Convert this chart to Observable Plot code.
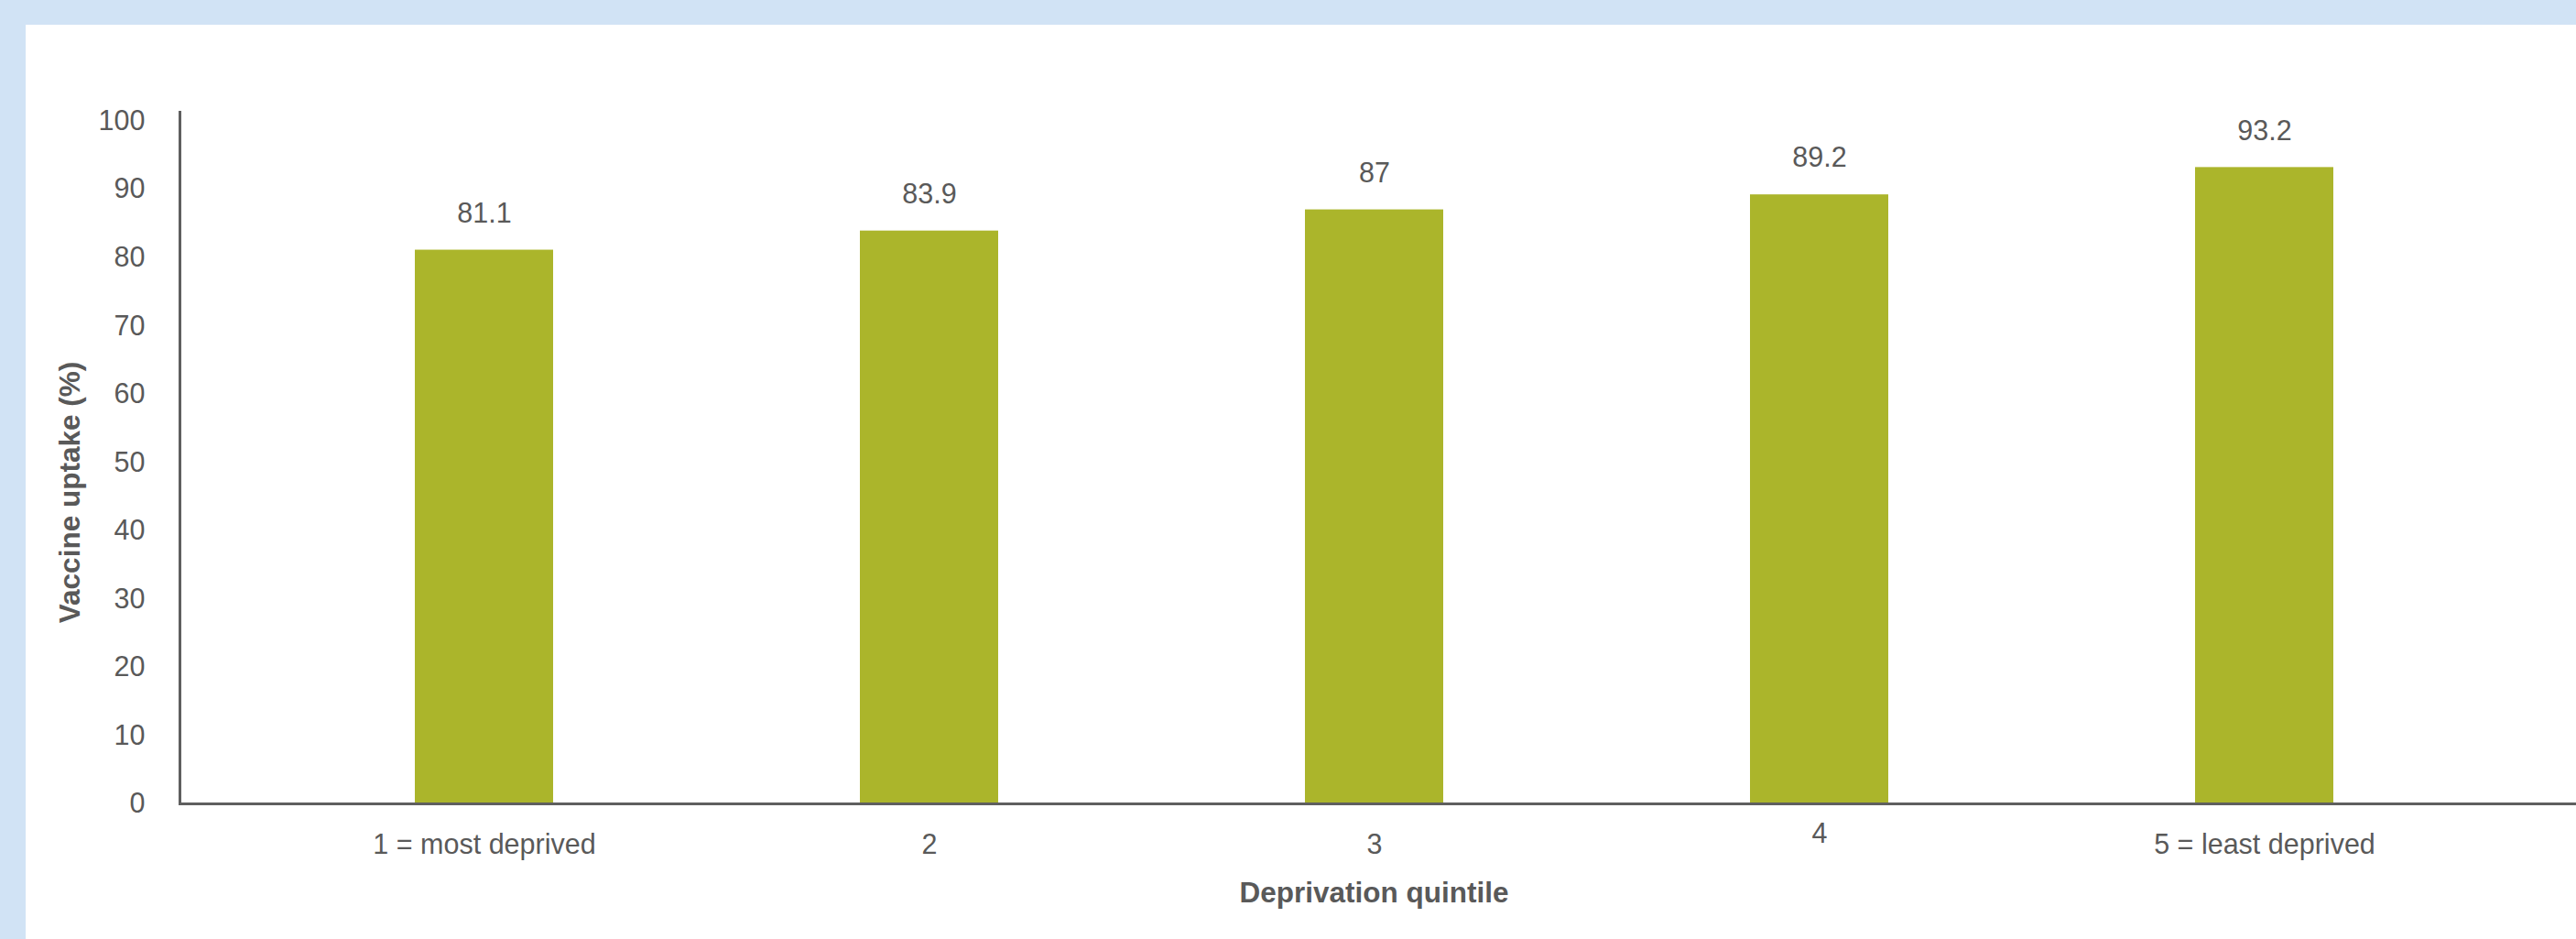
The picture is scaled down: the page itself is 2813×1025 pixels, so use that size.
<!DOCTYPE html>
<html>
<head>
<meta charset="utf-8">
<script src="https://cdn.jsdelivr.net/npm/d3@7"></script>
<script src="https://cdn.jsdelivr.net/npm/@observablehq/plot@0.6"></script>
<style>
  html, body { margin: 0; padding: 0; }
  body { width: 2813px; height: 1025px; background: #d1e3f5; overflow: hidden; position: relative; }
  #panel { position: absolute; left: 28px; top: 27px; width: 2785px; height: 998px; background: #ffffff; }
  #panel svg { display: block; }
</style>
</head>
<body>
<div id="panel"></div>
<script>
const categories = ["1 = most deprived", "2", "3", "4", "5 = least deprived"];
const uptake = [81.1, 83.9, 87, 89.2, 93.2];
const yTicks = [0, 10, 20, 30, 40, 50, 60, 70, 80, 90, 100];
const xTitle = "Deprivation quintile";
const yTitle = "Vaccine uptake (%)";

const data = categories.map((c, i) => ({quintile: c, uptake: uptake[i]}));

const textColor = "#595959";
const axisColor = "#5f5f5f";
const barColor = "#abb52b";

const chart = Plot.plot({
  width: 2785,
  height: 998,
  marginLeft: 168,
  marginRight: 0,
  marginTop: 95,
  marginBottom: 148,
  style: {
    fontFamily: "'Liberation Sans', Arial, sans-serif",
    fontSize: "30.5px",
    color: textColor,
    background: "transparent",
    overflow: "visible"
  },
  x: {domain: categories, insetLeft: 88, insetRight: 96, paddingInner: 0.69, paddingOuter: 0.345},
  y: {domain: [0, 101.3]},
  marks: [
    Plot.barY(data, {x: "quintile", y: "uptake", fill: barColor}),
    Plot.frame({anchor: "left", stroke: axisColor, strokeWidth: 3}),
    Plot.frame({anchor: "bottom", stroke: axisColor, strokeWidth: 3}),
    Plot.axisY(yTicks, {tickSize: 0, tickPadding: 38, fontSize: 30.5, fill: textColor, label: null}),
    Plot.axisX(categories.filter(c => c !== "4"), {tickSize: 0, tickPadding: 33, fontSize: 30.5, fill: textColor, label: null}),
    Plot.axisX(["4"], {tickSize: 0, tickPadding: 33, dy: -12, fontSize: 30.5, fill: textColor, label: null}),
    Plot.text(data, {x: "quintile", y: "uptake", text: d => String(d.uptake), dy: -40, lineAnchor: "middle", fontSize: 30.5, fill: textColor}),
    Plot.text([xTitle], {frameAnchor: "bottom", dx: -4.5, dy: 97, textAnchor: "middle", lineAnchor: "middle", fontSize: 31.5, fontWeight: "bold", fill: textColor}),
    Plot.text([yTitle], {frameAnchor: "left", rotate: -90, dx: -120, dy: 37.5, textAnchor: "middle", lineAnchor: "middle", fontSize: 31.5, fontWeight: "bold", fill: textColor})
  ]
});

document.getElementById("panel").appendChild(chart);
</script>
</body>
</html>
